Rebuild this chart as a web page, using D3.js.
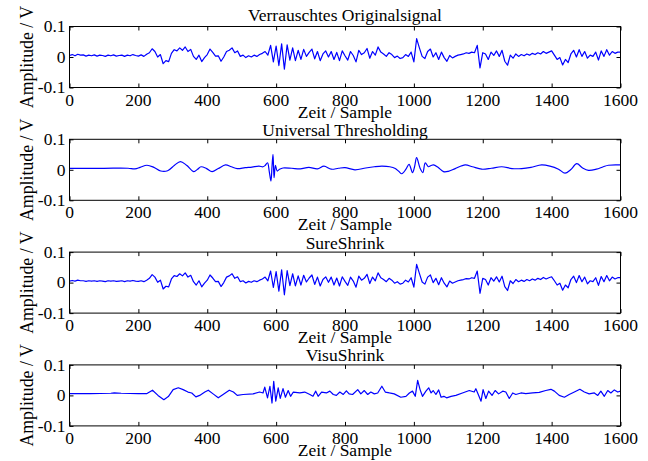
<!DOCTYPE html>
<html>
<head>
<meta charset="utf-8">
<script src="https://cdn.jsdelivr.net/npm/d3@7"></script>
<style>
  html, body { margin: 0; padding: 0; background: #fff; }
  svg text { font-family: "Liberation Serif", "Times New Roman", serif; fill: #000; }
</style>
</head>
<body>
<svg id="chart" width="648" height="461"></svg>
<script>
/* Signal values are in mV, one value every SAMPLE_STEP samples */
const SAMPLE_STEP = 8;

const original = [
  5, 8, 4, 9, 6, 7, 3, 6, 4, 7,
  3, 6, 5, 2, 6, 4, 7, 3, 5, 6,
  2, 6, 4, 8, 5, 3, 7, 2, 9, 14,
  27, 18, 0, 8, -22, -12, -15, 12, 24, 20,
  30, 22, 33, 18, 25, 2, -8, 6, -15, -2,
  8, 26, 15, 3, 4, -14, 0, 18, 22, 30,
  14, 20, 2, 6, -2, 4, 0, 6, 2, 8,
  12, 18, 6, 38, -16, 36, -28, 43, -40, 40,
  -10, 30, -12, 22, -8, 25, 2, 15, 26, -6,
  18, -12, 10, 20, 0, 18, -8, 15, -12, 20,
  4, -10, 18, 5, -16, 22, 8, 14, 28, -4,
  18, 6, 33, 16, 10, 2, 14, 8, -2, 3,
  -5, -2, 8, 2, 16, -16, 60, 30, 2, -5,
  18, 26, 0, 14, -8, 16, -2, -14, 5, -3,
  2, 6, 8, 10, 14, 12, 16, 14, 38, -36,
  14, 10, -8, 16, 5, 20, 2, 22, -14, -27,
  6, -4, 10, 2, 8, 4, 10, 6, 12, 8,
  14, 10, 18, 12, 16, 20, 6, -8, -2, -26,
  -8, -18, 10, 22, 0, 24, 2, 18, -4, 6,
  2, 16, -10, 20, 2, 24, 6, 18, 12, 16,
  16
];

const sureShrink = [
  5, 7, 5, 8, 6, 6, 4, 6, 5, 6,
  4, 6, 5, 3, 6, 5, 6, 4, 5, 6,
  3, 6, 5, 7, 5, 4, 6, 3, 8, 14,
  26, 18, 1, 8, -21, -12, -14, 12, 23, 20,
  29, 22, 32, 18, 24, 3, -8, 6, -14, -2,
  8, 25, 15, 3, 4, -13, 0, 18, 22, 29,
  14, 19, 3, 6, -1, 4, 1, 6, 3, 8,
  12, 18, 6, 38, -16, 36, -28, 42, -40, 39,
  -10, 29, -11, 22, -8, 24, 2, 15, 25, -6,
  18, -11, 10, 19, 1, 18, -8, 15, -11, 19,
  4, -9, 18, 5, -15, 21, 8, 14, 27, -3,
  18, 6, 32, 16, 10, 3, 14, 8, -2, 3,
  -5, -2, 8, 2, 16, -15, 60, 30, 2, -5,
  18, 25, 0, 14, -7, 16, -2, -14, 5, -2,
  2, 6, 8, 10, 13, 12, 16, 14, 38, -35,
  14, 10, -8, 16, 5, 19, 2, 21, -13, -26,
  6, -3, 10, 3, 8, 4, 10, 6, 12, 8,
  14, 10, 17, 12, 16, 19, 6, -8, -2, -25,
  -8, -17, 10, 21, 0, 23, 3, 18, -4, 6,
  3, 16, -9, 20, 3, 23, 6, 18, 12, 16,
  16
];

/* [sample, mV] pairs */
const universal = [
  [0, 5], [100, 5], [170, 5], [190, 3], [205, 8], [225, 15], [245, 8], [265, -4],
  [285, -3], [305, 15], [322, 27], [340, 15], [361, -6], [372, 2], [382, 10],
  [398, 4], [414, -6], [432, 4], [453, 16], [470, 10], [487, 4], [510, 7],
  [530, 9], [550, 12], [562, 10], [568, 14], [575, 23], [580, -5], [585, -37],
  [588, 10], [591, 51], [594, -26], [598, 15], [603, -4], [610, 2], [620, 6],
  [645, 5], [670, 3], [695, 8], [720, 3], [739, 12], [760, 2], [781, 5],
  [800, 7], [829, 0], [860, 6], [885, 10], [907, 12], [930, 10], [946, 4],
  [956, -5], [965, -13], [977, 2], [986, 18], [996, -9], [1002, 10], [1008, 40],
  [1018, 5], [1026, -9], [1033, 23], [1042, 10], [1050, 14], [1057, 16],
  [1070, 8], [1086, -6], [1100, -5], [1120, 4], [1149, 16], [1170, 10],
  [1197, 2], [1225, 5], [1255, 10], [1285, 4], [1313, 4], [1340, 8],
  [1371, 16], [1395, 12], [1420, 2], [1439, -11], [1455, 0], [1473, 20],
  [1490, 6], [1507, -2], [1530, 2], [1550, 10], [1565, 15], [1594, 16], [1600, 16]
];

const visuShrink = [
  [0, 6], [60, 6], [120, 7], [130, 8], [150, 7], [200, 6], [225, 6], [241, 17],
  [257, 0], [274, -14], [287, -4], [301, 19], [316, 25], [330, 19], [344, 11],
  [355, 8], [367, -5], [378, 0], [393, 11], [403, 17], [417, 5], [432, -8],
  [446, 3], [464, 17], [476, 11], [487, 0], [504, 3], [533, 5], [552, 11],
  [562, 8], [567, 27], [575, -8], [582, 30], [588, -25], [593, 46], [599, -19],
  [606, 25], [612, -10], [620, 22], [627, -6], [635, 16], [642, -3], [650, 11],
  [669, 8], [683, 11], [698, 3], [707, -3], [715, 14], [722, -3], [732, 11],
  [746, 8], [756, 14], [766, 3], [775, 0], [785, 11], [795, 3], [804, 15],
  [812, 5], [822, 3], [837, 19], [846, 5], [856, 16], [866, 3], [875, 11],
  [885, 5], [895, 8], [907, 30], [917, 11], [929, 8], [943, 5], [962, -6],
  [977, -3], [987, 8], [996, 14], [1004, -3], [1011, 49], [1018, 19], [1025, -3],
  [1035, 14], [1043, 25], [1050, 8], [1056, 16], [1064, 3], [1072, 18],
  [1079, -6], [1087, -3], [1095, -8], [1108, -3], [1122, 0], [1141, 8],
  [1161, 16], [1175, 11], [1180, 22], [1187, 3], [1195, -19], [1201, 19],
  [1209, -10], [1217, 14], [1227, 0], [1236, 16], [1246, 5], [1258, 14],
  [1267, 11], [1277, -10], [1287, 8], [1296, 3], [1311, 8], [1325, 6],
  [1345, 8], [1364, 10], [1383, 16], [1398, 20], [1408, 14], [1422, 0],
  [1437, -6], [1451, 3], [1466, 11], [1482, 20], [1495, 11], [1509, 5],
  [1524, 8], [1534, 0], [1543, 14], [1553, -3], [1563, 16], [1572, 8],
  [1582, 18], [1592, 11], [1600, 14]
];

const titles = ['Verrauschtes Originalsignal', 'Universal Thresholding', 'SureShrink', 'VisuShrink'];
const xTicks = [0, 200, 400, 600, 800, 1000, 1200, 1400, 1600];
const yTicks = [-0.1, 0, 0.1];
const yTickLabels = ['-0.1', '0', '0.1'];
const xLabel = 'Zeit / Sample';
const yLabel = 'Amplitude / V';

/* Layout */
const LEFT = 69.5;
const RIGHT = 620.5;
const TOP = 26.5;
const ROW_GAP = 112.8;
const PLOT_H = 61;
const FONT = 17.5;

const toPairs = (arr) => arr.map((v, i) => [i * SAMPLE_STEP, v]);

const panels = [
  { title: titles[0], data: toPairs(original), curve: d3.curveLinear },
  { title: titles[1], data: universal, curve: d3.curveCatmullRom.alpha(0.5) },
  { title: titles[2], data: toPairs(sureShrink), curve: d3.curveLinear },
  { title: titles[3], data: visuShrink, curve: d3.curveLinear },
];

const svg = d3.select('#chart');

const x = d3.scaleLinear()
    .domain([0, 1600])
    .range([LEFT, RIGHT]);

panels.forEach((panel, i) => {
  let top = TOP + i * ROW_GAP;
  let bottom = top + PLOT_H;

  let y = d3.scaleLinear()
      .domain([-0.1, 0.1])
      .range([bottom, top]);

  let g = svg.append('g')
      .attr('class', 'panel');

  /* Data line */
  let line = d3.line()
      .x(d => x(d[0]))
      .y(d => y(d[1] / 1000))
      .curve(panel.curve);

  g.append('path')
      .datum(panel.data)
      .attr('fill', 'none')
      .attr('stroke', '#0000ff')
      .attr('stroke-width', 1.2)
      .attr('stroke-linejoin', 'round')
      .attr('d', line);

  /* Ticks (inward) on all four sides */
  let tickLen = 4;
  let bottomAxis = g.append('g')
      .attr('transform', `translate(0,${bottom})`)
      .call(d3.axisBottom(x).tickValues(xTicks).tickSizeInner(-tickLen).tickSizeOuter(0).tickFormat(''));
  let topAxis = g.append('g')
      .attr('transform', `translate(0,${top})`)
      .call(d3.axisTop(x).tickValues(xTicks).tickSizeInner(-tickLen).tickSizeOuter(0).tickFormat(''));
  let leftAxis = g.append('g')
      .attr('transform', `translate(${LEFT},0)`)
      .call(d3.axisLeft(y).tickValues(yTicks).tickSizeInner(-tickLen).tickSizeOuter(0).tickFormat(''));
  let rightAxis = g.append('g')
      .attr('transform', `translate(${RIGHT},0)`)
      .call(d3.axisRight(y).tickValues(yTicks).tickSizeInner(-tickLen).tickSizeOuter(0).tickFormat(''));

  for (let ax of [bottomAxis, topAxis, leftAxis, rightAxis]) {
    ax.select('.domain').remove();
    ax.selectAll('line').attr('stroke', '#000').attr('stroke-width', 1);
  }

  /* Box */
  g.append('rect')
      .attr('x', LEFT)
      .attr('y', top)
      .attr('width', RIGHT - LEFT)
      .attr('height', PLOT_H)
      .attr('fill', 'none')
      .attr('stroke', '#000')
      .attr('stroke-width', 1);

  /* Tick labels */
  g.selectAll('.x-tick-label')
      .data(xTicks)
      .enter()
      .append('text')
      .attr('class', 'x-tick-label')
      .attr('x', d => x(d))
      .attr('y', bottom + 18)
      .attr('text-anchor', 'middle')
      .style('font-size', FONT + 'px')
      .text(d => d);

  g.selectAll('.y-tick-label')
      .data(yTicks)
      .enter()
      .append('text')
      .attr('class', 'y-tick-label')
      .attr('x', LEFT - 4)
      .attr('y', d => y(d))
      .attr('dy', '0.33em')
      .attr('text-anchor', 'end')
      .style('font-size', FONT + 'px')
      .text((d, j) => yTickLabels[j]);

  /* Title and axis labels */
  g.append('text')
      .attr('x', (LEFT + RIGHT) / 2)
      .attr('y', top - (i === 0 ? 6 : 3.5))
      .attr('text-anchor', 'middle')
      .style('font-size', FONT + 'px')
      .text(panel.title);

  g.append('text')
      .attr('x', (LEFT + RIGHT) / 2)
      .attr('y', bottom + 30)
      .attr('text-anchor', 'middle')
      .style('font-size', FONT + 'px')
      .text(xLabel);

  g.append('text')
      .attr('transform', `translate(33,${(top + bottom) / 2}) rotate(-90)`)
      .attr('text-anchor', 'middle')
      .style('font-size', '17.8px')
      .text(yLabel);
});
</script>
</body>
</html>
